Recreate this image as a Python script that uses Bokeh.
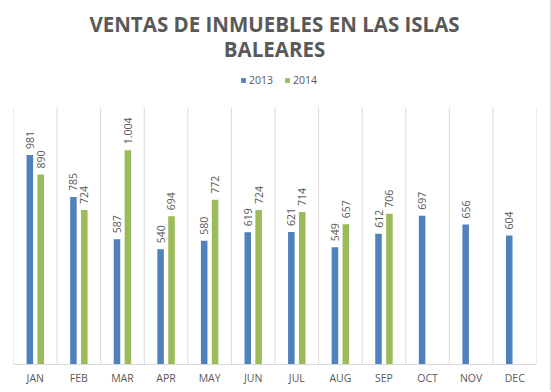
import math
from bokeh.plotting import figure
from bokeh.models import (ColumnDataSource, FixedTicker, Legend, LegendItem,
                          Label, Range1d)
from bokeh.transform import dodge
from bokeh.core.properties import value
from bokeh.embed import file_html
from bokeh.resources import INLINE

months = ["JAN", "FEB", "MAR", "APR", "MAY", "JUN", "JUL", "AUG", "SEP", "OCT", "NOV", "DEC"]
sales_2013 = [981, 785, 587, 540, 580, 619, 621, 549, 612, 697, 656, 604]
sales_2014 = [890, 724, 1004, 694, 772, 724, 714, 657, 706]
series_names = ["2013", "2014"]
series_colors = ["#4F81BD", "#9BBB59"]
title_lines = ["VENTAS DE INMUEBLES EN LAS ISLAS", "BALEARES"]
axis_max = 1204


def fmt(v):
    return f"{v:,}".replace(",", ".")


def make_source(vals):
    return ColumnDataSource(dict(
        x=[i + 0.5 for i in range(len(vals))],
        v=vals,
        label=[fmt(v) for v in vals],
    ))


src13 = make_source(sales_2013)
src14 = make_source(sales_2014)

FONT = "Open Sans"
GRAY = "#595959"
GRID = "#d9d9d9"
FW = 523          # plot-area width
PLOT_H = 257      # height of the bar area
FH = 364          # frame height incl. header area

p = figure(frame_width=FW, frame_height=FH, x_range=Range1d(0, len(months)),
           y_range=Range1d(0, axis_max * FH / PLOT_H),
           output_backend="svg", toolbar_location=None,
           min_border_left=13, min_border_right=14, min_border_top=0, min_border_bottom=26)
p.outline_line_color = None
p.background_fill_color = "white"
p.border_fill_color = "white"
p.styles = {"border-right": "1px solid #d9d9d9"}
p.xgrid.visible = False
p.ygrid.visible = False

# vertical category separators spanning the value axis (0 .. axis_max)
bounds = list(range(len(months) + 1))
p.segment(x0=bounds, y0=[0] * len(bounds), x1=bounds, y1=[axis_max] * len(bounds),
          line_color=GRID, line_width=1)

OFF = 0.125
W = 0.15
r13 = p.vbar(x=dodge("x", -OFF), top="v", width=W, source=src13,
             fill_color=series_colors[0], line_color=None)
r14 = p.vbar(x=dodge("x", OFF), top="v", width=W, source=src14,
             fill_color=series_colors[1], line_color=None)

for src, off in ((src13, -OFF), (src14, OFF)):
    p.text(x=dodge("x", off), y="v", text="label", source=src, angle=math.pi / 2,
           text_align="left", text_baseline="middle", y_offset=-6,
           text_font=value(FONT), text_font_size="10.5px", text_color=GRAY)

p.yaxis.visible = False
ax = p.xaxis[0]
ax.ticker = FixedTicker(ticks=[i + 0.5 for i in range(len(months))])
ax.major_label_overrides = {i + 0.5: m for i, m in enumerate(months)}
ax.axis_line_color = GRID
ax.major_tick_line_color = None
ax.minor_tick_line_color = None
ax.major_label_text_color = GRAY
ax.major_label_text_font = FONT
ax.major_label_text_font_size = "10.5px"
ax.major_label_standoff = 0

# header: title lines (screen units from the frame's bottom-left)
for line, sy in zip(title_lines, (FH - 23, FH - 48)):
    p.add_layout(Label(x=261, y=sy, x_units="screen", y_units="screen", text=line,
                       text_align="center", text_baseline="middle",
                       text_font=FONT, text_font_size="20.5px", text_font_style="bold",
                       text_color=GRAY))

legend = Legend(items=[LegendItem(label=series_names[0], renderers=[r13]),
                       LegendItem(label=series_names[1], renderers=[r14])],
                orientation="horizontal", location=(227, FH - 87),
                glyph_width=6, glyph_height=6, label_height=12,
                label_text_font_size="10.5px",
                label_text_font=FONT, label_text_color=GRAY, label_standoff=3,
                spacing=11, border_line_color=None, background_fill_alpha=0,
                padding=0, margin=0)
p.add_layout(legend, "center")

open("out.html", "w").write(file_html(p, INLINE))
